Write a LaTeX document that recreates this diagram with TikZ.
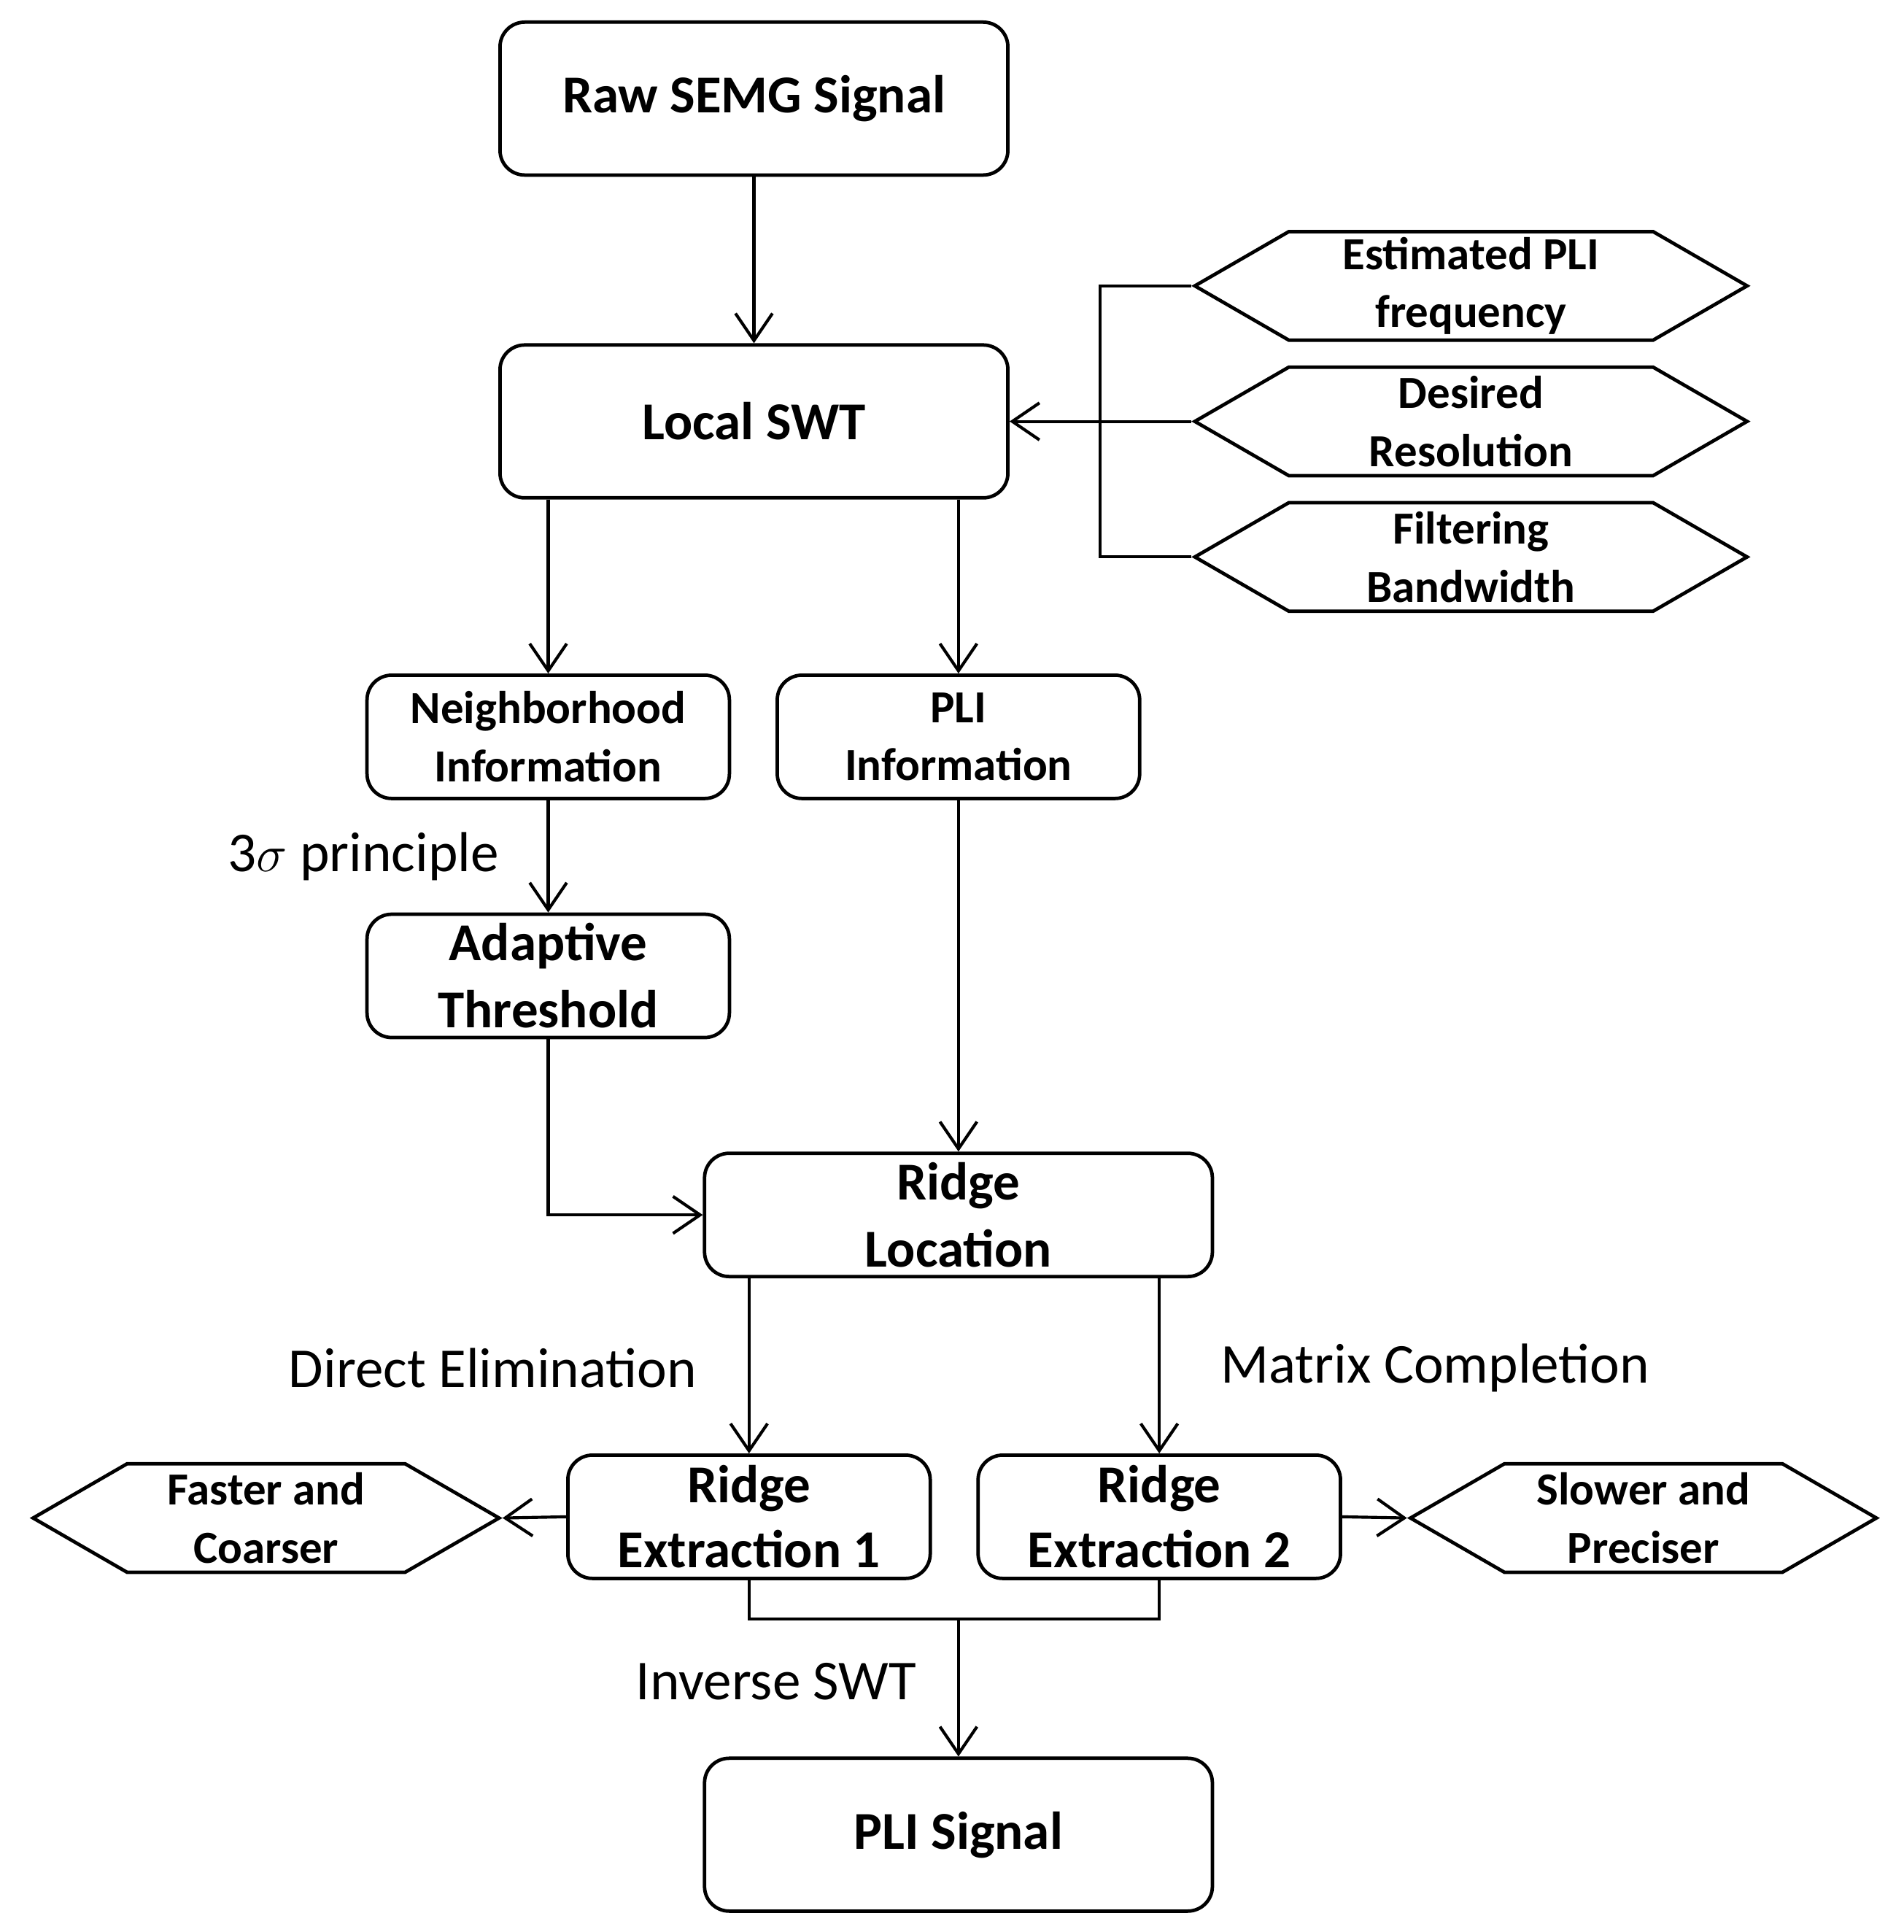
\documentclass[tikz,border=0pt]{standalone}
\usepackage{fontspec}
\setmainfont{Carlito}
\usetikzlibrary{shapes.symbols,arrows.meta}
\begin{document}
\begin{tikzpicture}[x=0.01cm,y=-0.01cm,
 box/.style={draw,rounded corners=0.2cm,line width=0.8pt,align=center,font=\bfseries\fontsize{10.6}{13.4}\selectfont,inner sep=0pt},
 big/.style={box,minimum width=4.12cm,minimum height=1.24cm,font=\bfseries\fontsize{12.3}{15}\selectfont},
 mid/.style={box,minimum width=2.94cm,minimum height=1.0cm},
 hex/.style={draw,signal,signal to=east and west,signal pointer angle=60,line width=0.8pt,minimum width=4.48cm,minimum height=0.88cm,inner sep=0pt,align=center,font=\bfseries\fontsize{10.6}{13.4}\selectfont},
 lab/.style={font=\fontsize{13}{15}\selectfont},
 arr/.style={-{Straight Barb[length=2.2mm,width=3mm]},line width=0.7pt},
 ln/.style={line width=0.7pt}]
\useasboundingbox (0,0) rectangle (1545,1568);
\node[big] (raw) at (612,80) {Raw SEMG Signal};
\node[big] (swt) at (612,342) {Local SWT};
\node[hex] (h1) at (1194,232) {Estimated PLI\\frequency};
\node[hex] (h2) at (1194,342) {Desired\\Resolution};
\node[hex] (h3) at (1194,452) {Filtering\\Bandwidth};
\node[mid] (nb) at (445,598) {Neighborhood\\Information};
\node[mid] (pli) at (778,598) {PLI\\Information};
\node[mid,font=\bfseries\fontsize{12.3}{15.5}\selectfont] (ad) at (445,792) {Adaptive\\Threshold};
\node[big,minimum height=1.0cm,font=\bfseries\fontsize{12.3}{15.5}\selectfont] (rl) at (778,986) {Ridge\\Location};
\node[mid,font=\bfseries\fontsize{12.3}{15}\selectfont] (re1) at (608,1231) {Ridge\\Extraction 1};
\node[mid,font=\bfseries\fontsize{12.3}{15}\selectfont] (re2) at (941,1231) {Ridge\\Extraction 2};
\node[hex,minimum width=3.78cm] (fa) at (216,1232) {Faster and\\Coarser};
\node[hex,minimum width=3.78cm] (sl) at (1334,1232) {Slower and\\Preciser};
\node[big] (out) at (778,1489) {PLI Signal};
\node[lab] (l1) at (295,695) {3$\sigma$ principle};
\node[lab] (l2) at (400,1110) {Direct Elimination};
\node[lab] (l3) at (1165,1110) {Matrix Completion};
\node[lab] (l4) at (630,1365) {Inverse SWT};
\coordinate (br) at (893,342);
\coordinate (j) at (778,1314);
\draw[arr] (raw) -- (swt);
\draw[ln] (h1.west) -| (br) |- (h3.west);
\draw[arr] (h2.west) -- (swt.east);
\draw[arr] (swt.south -| nb.north) -- (nb.north);
\draw[arr] (swt.south -| pli.north) -- (pli.north);
\draw[arr] (nb) -- (ad);
\draw[arr] (pli) -- (rl);
\draw[arr] (ad.south) |- (rl.west);
\draw[arr] (rl.south -| re1.north) -- (re1.north);
\draw[arr] (rl.south -| re2.north) -- (re2.north);
\draw[arr] (re1.west) -- (fa.east);
\draw[arr] (re2.east) -- (sl.west);
\draw[ln] (re1.south) |- (j) -| (re2.south);
\draw[arr] (j) -- (out);
\end{tikzpicture}
\end{document}
